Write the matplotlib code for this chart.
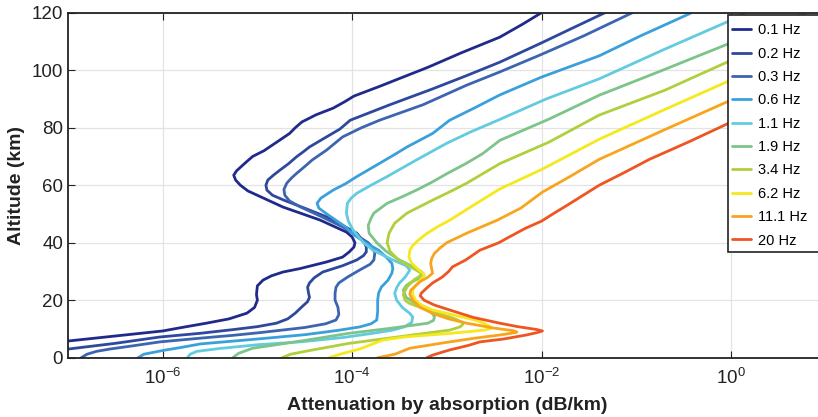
import numpy as np
import matplotlib
matplotlib.use("Agg")
import matplotlib.pyplot as plt
from matplotlib.patches import Rectangle

plt.rcParams['font.family'] = ['Liberation Sans', 'DejaVu Sans']

labels = ["0.1 Hz", "0.2 Hz", "0.3 Hz", "0.6 Hz", "1.1 Hz",
          "1.9 Hz", "3.4 Hz", "6.2 Hz", "11.1 Hz", "20 Hz"]
colors = ["#1f2a8a", "#2d489c", "#3c64b1", "#3aa0dc", "#62cbe0",
          "#7cc48a", "#b0cf3c", "#f5e81c", "#f8a51e", "#ef5522"]

# (altitude km, log10 attenuation dB/km) pairs
pts_01 = [[0, -7.8], [3, -7.35], [5.8, -7.0], [9.3, -6.0], [10.5, -5.8], [12, -5.54],
          [13.5, -5.3], [15.5, -5.11], [17.5, -5.03], [20, -5.0], [22, -5.01], [25, -5.0],
          [27, -4.94], [28.5, -4.85], [29.8, -4.73], [31, -4.55], [33.3, -4.27], [35, -4.1],
          [36.8, -4.03], [38.5, -3.98], [40, -3.97], [42, -4.0], [43.7, -4.06], [47.9, -4.34],
          [52.4, -4.73], [58, -5.1], [60, -5.18], [61.8, -5.23], [63.5, -5.25], [65, -5.22],
          [66.5, -5.17], [68, -5.12], [70, -5.05], [72, -4.93], [74, -4.84], [78, -4.66],
          [80, -4.6], [82, -4.53], [84.5, -4.38], [86.8, -4.2], [89, -4.08], [91, -3.98],
          [94.5, -3.7], [97.5, -3.47], [101, -3.2], [106, -2.85], [111.5, -2.44],
          [116, -2.2], [120, -2.0]]
pts_02 = [[0, -7.5], [3, -7.0], [5, -6.5], [7.2, -6.03], [8.5, -5.6], [9.8, -5.25],
          [10.8, -5.0], [12, -4.8], [13.5, -4.68], [15.5, -4.6], [17.7, -4.53], [19.5, -4.47],
          [21, -4.45], [22.5, -4.46], [24.5, -4.47], [26, -4.45], [27.8, -4.4], [29.8, -4.31],
          [32, -4.1], [34, -3.95], [35.5, -3.88], [36.8, -3.85], [38.5, -3.85], [40, -3.87],
          [43.3, -3.95], [46, -4.1], [49, -4.27], [52, -4.5], [54.8, -4.72], [56.5, -4.84],
          [58.3, -4.9], [60, -4.91], [61.8, -4.89], [63.5, -4.83], [65.3, -4.76],
          [67.5, -4.67], [69.8, -4.59], [71.5, -4.52], [73.3, -4.45], [76.8, -4.27],
          [79.5, -4.13], [82.6, -4.02], [88, -3.6], [93.5, -3.15], [98, -2.8],
          [102.8, -2.44], [109.5, -2.0], [115, -1.65], [120, -1.33]]
pts_03 = [[0, -6.86], [1.2, -6.8], [2.2, -6.7], [3, -6.56], [4.2, -6.3], [5.5, -6.03],
          [6.8, -5.6], [7.8, -5.25], [8.7, -4.98], [10.5, -4.5], [11.8, -4.28], [13.1, -4.17],
          [15, -4.14], [17.6, -4.15], [20, -4.18], [22.4, -4.18], [24.5, -4.17], [26, -4.14],
          [28, -4.05], [30.5, -3.92], [32.5, -3.81], [34, -3.77], [36.5, -3.76], [38.5, -3.79],
          [40, -3.83], [42.5, -3.95], [45.5, -4.1], [49, -4.32], [52.5, -4.55], [54.5, -4.66],
          [56.5, -4.71], [58.5, -4.72], [60.7, -4.69], [62.5, -4.64], [64, -4.59],
          [66.5, -4.5], [68.8, -4.42], [72.2, -4.27], [76.8, -4.1], [80, -3.9],
          [82.6, -3.71], [88, -3.25], [94.8, -2.79], [99.4, -2.44], [105.5, -2.0],
          [112, -1.55], [120, -1.04]]
pts_06 = [[0, -6.26], [1.2, -6.2], [2.5, -6.0], [3.6, -5.8], [4.8, -5.6], [6.5, -5.0],
          [8, -4.5], [9.5, -4.15], [10.7, -3.92], [11.8, -3.8], [13.1, -3.74], [16, -3.73],
          [20, -3.73], [22.5, -3.72], [24.6, -3.69], [27, -3.62], [29.4, -3.58], [31, -3.57],
          [32.8, -3.58], [35, -3.64], [37.4, -3.72], [40, -3.86], [42.5, -3.97],
          [45.5, -4.07], [48, -4.18], [50.3, -4.28], [52, -4.35], [53.7, -4.37],
          [55.5, -4.33], [58.3, -4.2], [60.5, -4.07], [63, -3.95], [65.3, -3.83],
          [67.6, -3.71], [70.5, -3.56], [73.3, -3.42], [78, -3.15], [82.6, -2.97],
          [87, -2.7], [91.4, -2.44], [97.6, -2.0], [105, -1.39], [112, -0.95],
          [119.6, -0.44], [120, -0.42]]
pts_11 = [[0, -5.74], [1.2, -5.71], [2.2, -5.64], [3.2, -5.4], [4.5, -5.0], [5.5, -4.55],
          [7, -4.1], [8.5, -3.78], [9.6, -3.57], [10.7, -3.45], [12.3, -3.37], [14.2, -3.36],
          [15.4, -3.39], [17.5, -3.47], [20, -3.53], [22.4, -3.55], [24.3, -3.53], [26, -3.5],
          [28, -3.44], [30.5, -3.39], [32, -3.43], [34, -3.57], [37.4, -3.78], [40, -3.88],
          [44.4, -3.99], [47.5, -4.04], [50.3, -4.06], [53.7, -4.05], [55.5, -4.01],
          [57.2, -3.95], [60, -3.8], [63, -3.63], [66, -3.47], [68.8, -3.32], [74.6, -3.0],
          [78.5, -2.75], [82.6, -2.46], [90, -1.95], [97, -1.39], [107, -0.72],
          [116.8, -0.04], [120, 0.15]]
pts_19 = [[0, -5.26], [1.5, -5.2], [3.3, -5.05], [5, -4.7], [6.8, -4.35], [8.5, -4.03],
          [10.2, -3.6], [12, -3.2], [13, -3.14], [14.2, -3.13], [15.8, -3.16], [17.6, -3.23],
          [19.3, -3.35], [21, -3.43], [23.5, -3.46], [25, -3.43], [26, -3.39], [27.5, -3.3],
          [28.7, -3.24], [30, -3.27], [32, -3.38], [34, -3.5], [37, -3.64], [40, -3.74],
          [43.3, -3.82], [46, -3.83], [48.5, -3.8], [50.3, -3.77], [52, -3.7], [53.7, -3.63],
          [56, -3.47], [58.3, -3.32], [61, -3.16], [64, -3.0], [67.5, -2.8], [71, -2.62],
          [75.6, -2.44], [83, -1.92], [91.3, -1.39], [100, -0.72], [109, -0.04], [120, 0.8]]
pts_34 = [[0, -4.74], [1.2, -4.65], [2.5, -4.45], [5, -4.03], [7.3, -3.5], [9.6, -2.97],
          [10.7, -2.86], [11.6, -2.83], [12.4, -2.84], [13.3, -2.9], [14.2, -2.97],
          [15.8, -3.13], [17.6, -3.29], [19, -3.4], [20, -3.44], [22, -3.46], [24.6, -3.42],
          [27, -3.35], [28.5, -3.28], [29.4, -3.27], [31, -3.35], [34, -3.51], [37, -3.6],
          [40, -3.63], [43.3, -3.61], [46.8, -3.55], [50.3, -3.42], [54.8, -3.15],
          [58, -2.95], [60.7, -2.79], [64, -2.62], [67.5, -2.44], [75, -1.92],
          [84.4, -1.39], [93, -0.7], [102.8, -0.04], [120, 1.25]]
pts_62 = [[0, -4.24], [1.2, -4.13], [3, -3.92], [6.1, -3.68], [7.2, -3.45], [8.5, -2.95],
          [9.6, -2.6], [10.2, -2.53], [11, -2.55], [12, -2.61], [13.1, -2.7], [14.8, -2.92],
          [16.6, -3.15], [18.3, -3.27], [20, -3.33], [22, -3.36], [23.5, -3.36],
          [25.5, -3.32], [27, -3.28], [28.5, -3.24], [29.4, -3.25], [31, -3.31],
          [32.8, -3.37], [35, -3.4], [37.4, -3.39], [39, -3.36], [40.9, -3.3], [43, -3.22],
          [45.5, -3.1], [47.8, -2.97], [53, -2.72], [58.7, -2.44], [65.6, -1.99],
          [76, -1.39], [86, -0.72], [96, -0.04], [120, 1.7]]
pts_111 = [[0, -3.73], [1.2, -3.55], [3.3, -3.39], [5.5, -2.97], [6.8, -2.7], [7.9, -2.44],
           [8.6, -2.3], [8.9, -2.26], [9.4, -2.3], [10.3, -2.5], [12, -2.79], [13.5, -2.98],
           [15.4, -3.15], [17.5, -3.28], [20, -3.36], [22, -3.39], [23.5, -3.38],
           [25, -3.33], [26.5, -3.28], [28, -3.2], [29.4, -3.15], [31, -3.16], [32.8, -3.17],
           [34.5, -3.16], [36.3, -3.13], [38.2, -3.07], [40, -3.0], [43.3, -2.79],
           [47.8, -2.47], [52, -2.22], [57.6, -1.99], [63, -1.7], [69, -1.39],
           [79, -0.72], [89, -0.04], [120, 2.1]]
pts_20 = [[0, -3.21], [0.9, -3.15], [2.7, -2.97], [4.2, -2.78], [5.0, -2.7], [5.5, -2.65],
          [6.5, -2.4], [7.9, -2.16], [8.7, -2.05], [9.3, -1.99], [9.8, -2.05], [10.8, -2.25],
          [12, -2.44], [14, -2.72], [16.6, -2.97], [18.3, -3.13], [20, -3.24], [21.5, -3.28],
          [22.4, -3.27], [24, -3.22], [26, -3.15], [28, -3.05], [30, -2.98], [31.6, -2.94],
          [34, -2.8], [37.4, -2.65], [40, -2.45], [42, -2.34], [45, -2.17], [47.5, -2.0],
          [50, -1.88], [53, -1.73], [56.5, -1.56], [60, -1.39], [64.5, -1.12], [69, -0.86],
          [75, -0.45], [81.3, -0.04], [120, 2.6]]

series = [pts_01, pts_02, pts_03, pts_06, pts_11, pts_19, pts_34, pts_62, pts_111, pts_20]

W, H = 818, 417
fig = plt.figure(figsize=(W / 100, H / 100), dpi=100)
ax_left, ax_top, ax_bot = 68, 12.7, 357.7
decade = 94.7
ax_w = decade * 8
ax = fig.add_axes([ax_left / W, 1 - ax_bot / H, ax_w / W, (ax_bot - ax_top) / H])

for pts, c, lab in zip(series, colors, labels):
    p = np.array(pts, dtype=float)
    ax.plot(10.0 ** p[:, 1], p[:, 0], color=c, lw=2.0, label=lab,
            solid_joinstyle='round', solid_capstyle='round')

ax.set_xscale('log')
ax.set_xlim(1e-7, 10)
ax.set_ylim(0, 120)
ax.set_xticks([1e-6, 1e-4, 1e-2, 1e0])
ax.xaxis.set_minor_locator(matplotlib.ticker.NullLocator())
ax.set_yticks([0, 20, 40, 60, 80, 100, 120])
ax.grid(True, color='#e3e3e3', lw=0.9)
ax.set_axisbelow(True)
ax.tick_params(direction='in', length=5, width=0.8, labelsize=13.5, top=True, right=True,
               colors='#222222', labelcolor='#222222')
ax.tick_params(axis='x', pad=7)
for s in ax.spines.values():
    s.set_linewidth(1.3)
    s.set_color('#222222')
ax.set_xlabel("Attenuation by absorption (dB/km)", fontsize=14, fontweight='bold',
              color='#222222', labelpad=7)
ax.set_ylabel("Altitude (km)", fontsize=14, fontweight='bold', color='#222222', labelpad=5)

# legend frame (drawn separately so its padding matches the reference)
frame = Rectangle((728 / W, 1 - 252 / H), (840 - 728) / W, (252 - 15) / H,
                  transform=fig.transFigure, facecolor='white', edgecolor='#222222',
                  lw=1.2, zorder=5)
fig.add_artist(frame)
leg = fig.legend(loc='upper left', bbox_to_anchor=(732 / W, 1 - 23.5 / H), fontsize=10.5,
                 frameon=False, handlelength=1.3, handletextpad=0.45, labelspacing=0.64,
                 borderpad=0, borderaxespad=0)
leg.set_zorder(6)

fig.savefig("out.png", dpi=100)
